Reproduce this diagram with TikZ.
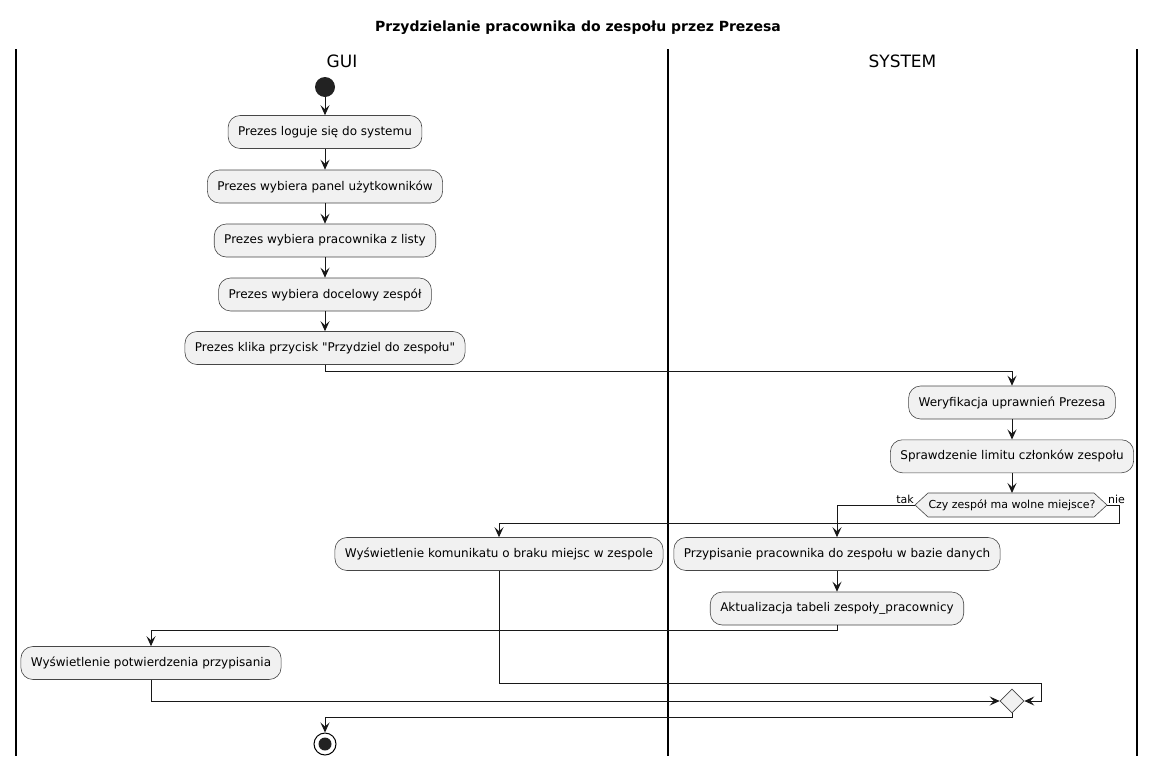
\documentclass[tikz,border=0pt]{standalone}
\usepackage{fontspec}
\setmainfont{DejaVu Sans}[Ligatures=TeXOff]
\usetikzlibrary{shapes.geometric,arrows.meta}
\definecolor{boxfill}{HTML}{F1F1F1}
\definecolor{ink}{HTML}{181818}
\definecolor{dot}{HTML}{222222}
\tikzset{
  act/.style={draw=ink!80, line width=0.6pt, fill=boxfill, rounded corners=12pt,
    minimum height=33pt, inner xsep=10pt, inner ysep=0pt, font=\fontsize{12}{14}\selectfont, text=black},
  flow/.style={draw=ink, line width=1pt, -{Stealth[length=10pt,width=9pt,inset=4pt]}},
  lane/.style={draw=black, line width=1.8pt},
  hexline/.style={draw=ink!80, line width=0.6pt, fill=boxfill},
  merge/.style={draw=ink!80, line width=0.6pt, fill=boxfill, diamond, minimum size=24pt, inner sep=0pt},
  lbl/.style={font=\fontsize{11}{13}\selectfont, inner sep=1pt},
  lanehead/.style={font=\fontsize{17}{20}\selectfont},
}
\begin{document}
\begin{tikzpicture}[x=1pt,y=-1pt]
\useasboundingbox (0,0) rectangle (1156,766);
\node[font=\bfseries\fontsize{14}{16}\selectfont] (title) at (578,28) {Przydzielanie pracownika do zespołu przez Prezesa};
\draw[lane] (16,49) -- (16,756);
\draw[lane] (668,49) -- (668,756);
\draw[lane] (1137,49) -- (1137,756);
\node[lanehead] (gui) at (342,61) {GUI};
\node[lanehead] (sys) at (902.5,61) {SYSTEM};

\node[circle, fill=dot, minimum size=20pt, inner sep=0pt] (start) at (325,87) {};
\node[act] (b1) at (325,132) {Prezes loguje się do systemu};
\node[act] (b2) at (325,186.5) {Prezes wybiera panel użytkowników};
\node[act] (b3) at (325,240.5) {Prezes wybiera pracownika z listy};
\node[act] (b4) at (325,294.5) {Prezes wybiera docelowy zespół};
\node[act] (b5) at (325,348) {Prezes klika przycisk "Przydziel do zespołu"};
\node[act] (b6) at (1012,402.5) {Weryfikacja uprawnień Prezesa};
\node[act] (b7) at (1012,456.3) {Sprawdzenie limitu członków zespołu};
\coordinate (decW) at (915,505);
\coordinate (decE) at (1107,505);
\coordinate (decN) at (1012,493);
\path[hexline] (decW) -- (928,493) -- (1094,493) -- (decE) -- (1094,517) -- (928,517) -- cycle;
\node[font=\fontsize{11}{13}\selectfont, inner sep=0pt] (dec) at (1012,505) {Czy zespół ma wolne miejsce?};
\node[act] (b8) at (837,554) {Przypisanie pracownika do zespołu w bazie danych};
\node[act] (b9) at (499,554) {Wyświetlenie komunikatu o braku miejsc w zespole};
\node[act] (b10) at (837,608.5) {Aktualizacja tabeli zespoły\_pracownicy};
\node[act] (b11) at (151,663) {Wyświetlenie potwierdzenia przypisania};
\node[merge] (m) at (1012,701) {};
\node[circle, draw=black, line width=1pt, fill=white, minimum size=22pt, inner sep=0pt] (end) at (325,744) {};
\fill[dot] (end.center) circle (6.5pt);

\node[lbl, anchor=south east] (tak) at (915,505) {tak};
\node[lbl, anchor=south west] (nie) at (1107,505) {nie};

\draw[flow] (start) -- (b1);
\draw[flow] (b1) -- (b2);
\draw[flow] (b2) -- (b3);
\draw[flow] (b3) -- (b4);
\draw[flow] (b4) -- (b5);
\draw[flow] (b5.south) -- (325,371) -- (1012,371) -- (b6.north);
\draw[flow] (b6) -- (b7);
\draw[flow] (b7) -- (decN);
\draw[flow] (decW) -- (837,505) -- (b8.north);
\draw[flow] (decE) -- (1119,505) -- (1119,523) -- (499,523) -- (b9.north);
\draw[flow] (b8) -- (b10);
\draw[flow] (b10.south) -- (837,630) -- (151,630) -- (b11.north);
\draw[flow] (b9.south) -- (499,683) -- (1041,683) -- (1041,701) -- (m.east);
\draw[flow] (b11.south) -- (151,701) -- (m.west);
\draw[flow] (m.south) -- (1012,717) -- (325,717) -- (end.north);
\end{tikzpicture}
\end{document}
